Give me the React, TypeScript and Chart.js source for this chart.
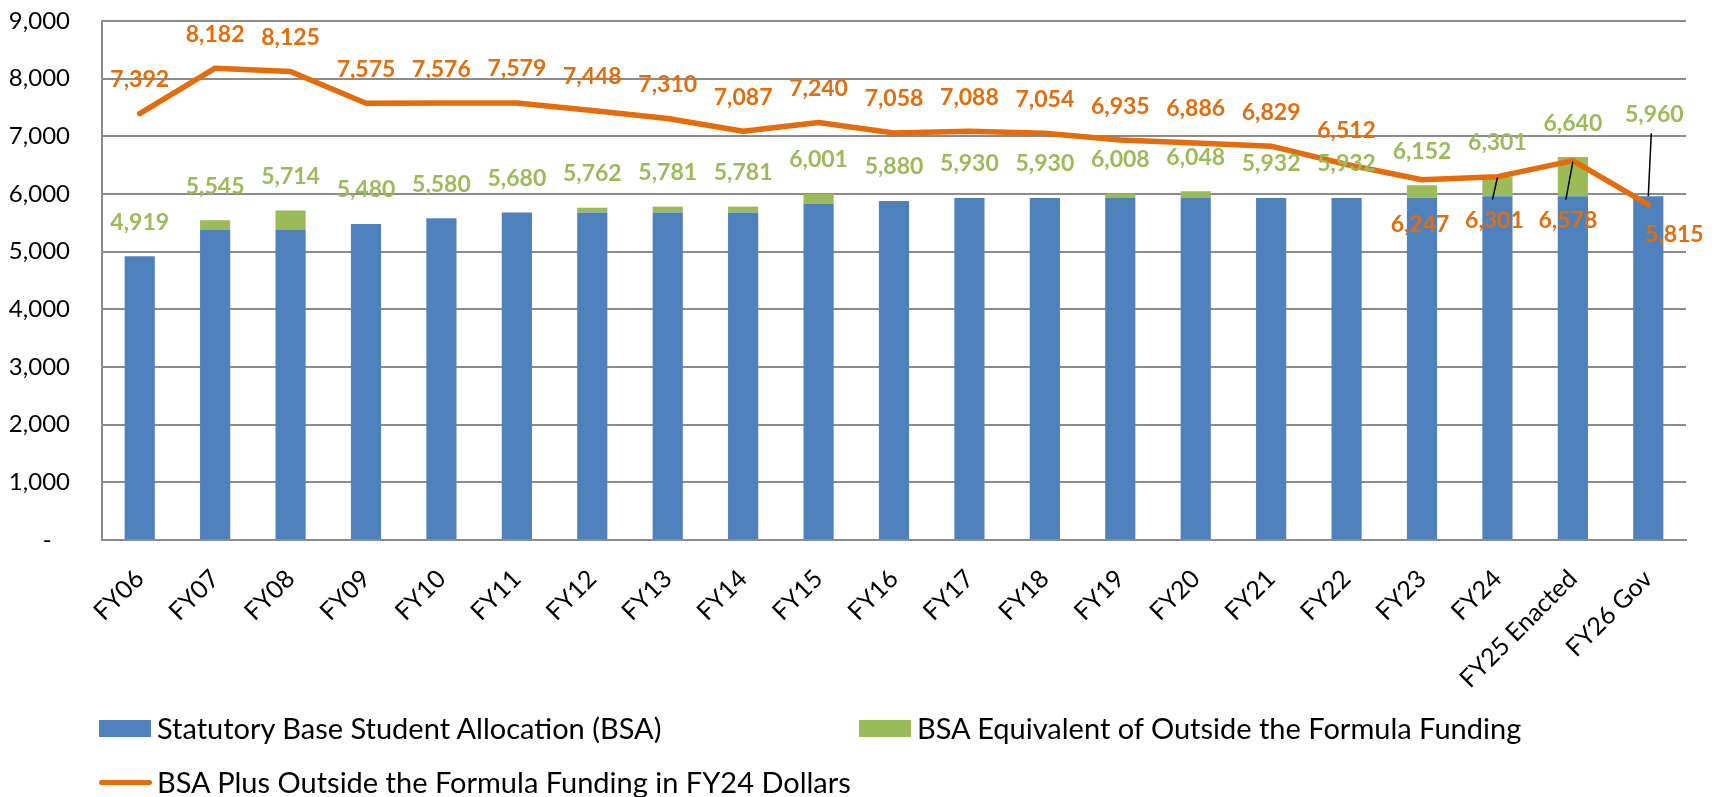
import React, { useEffect, useRef } from "react";
import { Chart, registerables } from "chart.js";

Chart.register(...registerables);

// ---- Data ----
const categories = [
  "FY06", "FY07", "FY08", "FY09", "FY10", "FY11", "FY12", "FY13", "FY14", "FY15",
  "FY16", "FY17", "FY18", "FY19", "FY20", "FY21", "FY22", "FY23", "FY24",
  "FY25 Enacted", "FY26 Gov",
];
const bsaValues = [
  4919, 5375, 5375, 5480, 5580, 5680, 5680, 5680, 5680, 5830,
  5880, 5930, 5930, 5930, 5930, 5932, 5932, 5932, 5960, 5960, 5960,
];
const outsideValues = [
  0, 170, 339, 0, 0, 0, 82, 101, 101, 171,
  0, 0, 0, 78, 118, 0, 0, 220, 341, 680, 0,
];
const fy24DollarValues = [
  7392, 8182, 8125, 7575, 7576, 7579, 7448, 7310, 7087, 7240,
  7058, 7088, 7054, 6935, 6886, 6829, 6512, 6247, 6301, 6578, 5815,
];
const yTickValues = [0, 1000, 2000, 3000, 4000, 5000, 6000, 7000, 8000, 9000];

const seriesNames = [
  "Statutory Base Student Allocation (BSA)",
  "BSA Equivalent of Outside the Formula Funding",
  "BSA Plus Outside the Formula Funding in FY24 Dollars",
];

// ---- Styles ----
const BLUE = "#4F81BD";
const GREEN = "#9BBB59";
const ORANGE = "#E46C0A";
const GRID = "#8C8C8C";
const FONT = "Lato, 'Open Sans', sans-serif";

// label placement offsets (px) relative to the mark
const orangeDy = categories.map((_, i) => (i === 17 ? 45 : i === 18 ? 44 : i === 19 ? 60 : i === 20 ? 30 : -34));
const orangeDx = categories.map((_, i) => (i === 20 ? 26 : i === 17 ? -2 : i === 18 ? -3 : i === 19 ? -5 : 0));
const greenDy = categories.map((_, i) => (i === 20 ? -82 : -34));
const greenDx = categories.map((_, i) => (i === 20 ? 6 : 0));
const orangeLeaders = [18, 19];
const greenLeaders = [20];

const fmt = (v: number) => v.toLocaleString("en-US");

const labelPlugin = {
  id: "valueLabels",
  afterDatasetsDraw(chart: any) {
    const ctx = chart.ctx;
    const lineMeta = chart.getDatasetMeta(0);
    const topMeta = chart.getDatasetMeta(2);
    ctx.save();
    ctx.font = `bold 23px ${FONT}`;
    ctx.textAlign = "center";
    ctx.textBaseline = "middle";
    categories.forEach((_, i) => {
      const bar = topMeta.data[i];
      const total = bsaValues[i] + outsideValues[i];
      const gx = bar.x + greenDx[i];
      const gy = bar.y + greenDy[i];
      ctx.fillStyle = GREEN;
      ctx.fillText(fmt(total), gx, gy);
      if (greenLeaders.includes(i)) {
        ctx.strokeStyle = "#000";
        ctx.lineWidth = 1.5;
        ctx.beginPath();
        ctx.moveTo(gx - 3, gy + 19);
        ctx.lineTo(bar.x, bar.y);
        ctx.stroke();
      }
      const pt = lineMeta.data[i];
      const ox = pt.x + orangeDx[i];
      const oy = pt.y + orangeDy[i];
      ctx.fillStyle = ORANGE;
      ctx.fillText(fmt(fy24DollarValues[i]), ox, oy);
      if (orangeLeaders.includes(i)) {
        ctx.strokeStyle = "#000";
        ctx.lineWidth = 1.5;
        ctx.beginPath();
        ctx.moveTo(pt.x, pt.y + 1);
        ctx.lineTo(ox - 2, oy - 21);
        ctx.stroke();
      }
    });
    ctx.restore();
  },
};

export default function App() {
  const canvasRef = useRef<HTMLCanvasElement | null>(null);

  useEffect(() => {
    if (!canvasRef.current) return;
    const chart = new Chart(canvasRef.current, {
      type: "bar",
      data: {
        labels: categories,
        datasets: [
          {
            type: "line",
            label: seriesNames[2],
            data: fy24DollarValues,
            borderColor: ORANGE,
            backgroundColor: ORANGE,
            borderWidth: 5.5,
            pointRadius: 0,
            tension: 0,
            borderJoinStyle: "round",
            borderCapStyle: "round",
            stack: "line",
            order: 0,
          } as any,
          {
            type: "bar",
            label: seriesNames[0],
            data: bsaValues,
            backgroundColor: BLUE,
            stack: "bars",
            order: 1,
            categoryPercentage: 1,
            barPercentage: 0.4,
          },
          {
            type: "bar",
            label: seriesNames[1],
            data: outsideValues,
            backgroundColor: GREEN,
            stack: "bars",
            order: 2,
            categoryPercentage: 1,
            barPercentage: 0.4,
          },
        ],
      },
      options: {
        animation: false,
        responsive: true,
        maintainAspectRatio: false,
        layout: { padding: { top: 21, right: 35, left: 0, bottom: 0 } },
        plugins: {
          legend: { display: false },
          tooltip: { enabled: false },
        },
        scales: {
          x: {
            stacked: true,
            grid: { display: false, drawTicks: false },
            border: { display: true, color: GRID, width: 2 },
            ticks: {
              autoSkip: false,
              minRotation: 45,
              maxRotation: 45,
              padding: 24,
              color: "#000",
              font: { family: FONT, size: 25 },
            },
            afterFit: (scale: any) => {
              scale.height = 257;
              scale.paddingLeft = 0;
              scale.paddingRight = 0;
            },
          },
          y: {
            stacked: true,
            min: 0,
            max: 9000,
            afterBuildTicks: (scale: any) => {
              scale.ticks = yTickValues.map((v) => ({ value: v }));
            },
            grid: { color: GRID, lineWidth: 2, drawTicks: false },
            border: { display: true, color: GRID, width: 2 },
            ticks: {
              padding: 32,
              color: "#000",
              font: { family: FONT, size: 24 },
              callback: (v: any) => (Number(v) === 0 ? "-   " : fmt(Number(v))),
            },
            afterFit: (scale: any) => {
              scale.width = 102;
              scale.paddingTop = 0;
              scale.paddingBottom = 0;
            },
          },
        },
      },
      plugins: [labelPlugin],
    });
    return () => chart.destroy();
  }, []);

  const legendText: React.CSSProperties = {
    position: "absolute",
    fontFamily: FONT,
    fontSize: 29,
    color: "#000",
    whiteSpace: "nowrap",
    lineHeight: "34px",
  };

  return (
    <div style={{ position: "absolute", left: 0, top: 0, width: 1721, height: 797, background: "#fff" }}>
      <canvas ref={canvasRef} />
      <div style={{ position: "absolute", left: 99, top: 720, width: 52, height: 17, background: BLUE }} />
      <div style={{ ...legendText, left: 157, top: 711 }}>{seriesNames[0]}</div>
      <div style={{ position: "absolute", left: 859, top: 720, width: 52, height: 17, background: GREEN }} />
      <div style={{ ...legendText, left: 917, top: 711 }}>{seriesNames[1]}</div>
      <div style={{ position: "absolute", left: 99, top: 780, width: 53, height: 5, borderRadius: 3, background: ORANGE }} />
      <div style={{ ...legendText, left: 157, top: 765 }}>{seriesNames[2]}</div>
    </div>
  );
}
